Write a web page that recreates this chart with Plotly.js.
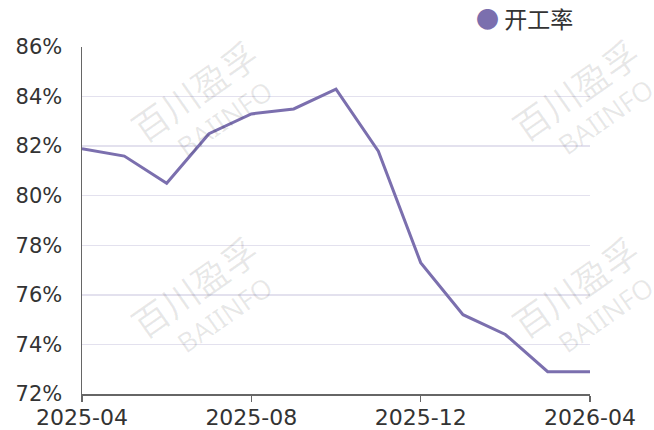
<!DOCTYPE html>
<html>
<head>
<meta charset="utf-8">
<script src="https://cdn.plot.ly/plotly-3.0.1.min.js"></script>
<style>html,body{margin:0;padding:0;background:#fff;}#chart{width:654px;height:430px;}</style>
</head>
<body>
<div id="chart"></div>
<script>
const months = ['2025-04','2025-05','2025-06','2025-07','2025-08','2025-09','2025-10','2025-11','2025-12','2026-01','2026-02','2026-03','2026-04'];
const rate = [81.9, 81.6, 80.5, 82.5, 83.3, 83.5, 84.3, 81.8, 77.3, 75.2, 74.4, 72.9, 72.9];
const xTicks = ['2025-04','2025-08','2025-12','2026-04'];
const yTicks = [72, 74, 76, 78, 80, 82, 84, 86];
const yTickText = yTicks.map(function(v){ return v + '%'; });
const seriesName = '开工率';

const lineColor = '#7b6fae';
const fontFam = '"DejaVu Sans", "Noto Sans", sans-serif';

const wm = [];
[[0.22,0.875],[0.97,0.88],[0.22,0.31],[0.97,0.31]].forEach(function(p){
  wm.push({xref:'paper', yref:'paper', x:p[0], y:p[1], xanchor:'center', yanchor:'middle',
    text:'百川盈孚', showarrow:false, textangle:-35,
    font:{family:'"Noto Sans CJK SC", sans-serif', size:36, color:'rgba(0,0,0,0.09)'}});
  wm.push({xref:'paper', yref:'paper', x:p[0]+0.06, y:p[1]-0.08, xanchor:'center', yanchor:'middle',
    text:'BAIINFO', showarrow:false, textangle:-35,
    font:{family:'"Noto Sans", sans-serif', size:27, color:'rgba(0,0,0,0.09)'}});
});
wm.push({xref:'paper', yref:'paper', x:0.772, y:1.083, xanchor:'left', yanchor:'middle', showarrow:false,
  text:'<span style="color:' + lineColor + '">●</span> ' + seriesName,
  font:{family:'"Noto Sans CJK SC", sans-serif', size:23, color:'#333'}});

const trace = {
  x: months, y: rate, type:'scatter', mode:'lines', name: seriesName,
  line:{color: lineColor, width:3}, showlegend:false, cliponaxis:false
};

const layout = {
  width:654, height:430,
  margin:{l:82, r:64, t:47, b:36},
  paper_bgcolor:'#fff', plot_bgcolor:'#fff',
  font:{family:fontFam, color:'#333'},
  xaxis:{type:'category', range:[0,12], tickvals:xTicks, ticktext:xTicks,
    showgrid:false, zeroline:false, showline:true, linecolor:'#666', linewidth:1.5,
    ticks:'outside', ticklen:6, tickcolor:'#666', tickwidth:1.5, ticklabelstandoff:-3,
    tickfont:{family:fontFam, size:22, color:'#333'}, automargin:false},
  yaxis:{range:[72,86], tickvals:yTicks, ticktext:yTickText,
    showgrid:true, gridcolor:'#e3e1ee', gridwidth:1.5, zeroline:false,
    showline:true, linecolor:'#666', linewidth:1.5, ticks:'', ticklabelstandoff:14,
    tickfont:{family:fontFam, size:21, color:'#333'}, automargin:false},
  annotations: wm
};

Plotly.newPlot('chart', [trace], layout, {displayModeBar:false, staticPlot:true});
</script>
</body>
</html>
